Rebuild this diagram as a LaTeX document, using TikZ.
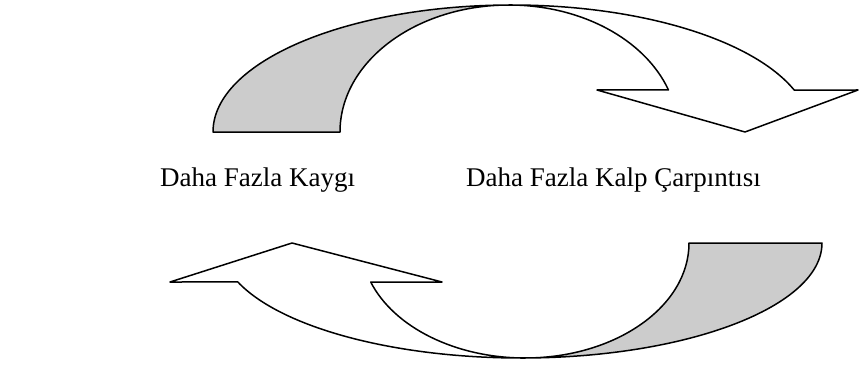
\documentclass[tikz,border=0pt]{standalone}
\usepackage{fontspec}
\setmainfont{Liberation Serif}
\begin{document}
\begin{tikzpicture}[x=1pt,y=1pt,
  band/.style={draw=black,line width=1.5pt,line join=round},
  back/.style={band,fill=black!20},
  front/.style={band,fill=white},
  lbl/.style={anchor=base west,inner sep=0pt,font=\fontsize{27}{30}\selectfont}]
\useasboundingbox (0,0) rectangle (860,365);
% top curved down arrow
\path[back] (213,233) arc[start angle=180,end angle=90,x radius=299,y radius=127]
  -- (509,360) arc[start angle=90,end angle=180,x radius=169,y radius=127] -- cycle;
\path[front] (512,360) arc[start angle=90,end angle=19.31,x radius=299,y radius=127]
  -- (858,275) -- (745,233) -- (597,275) -- (668.5,275)
  arc[start angle=19.31,end angle=90,x radius=169,y radius=127] -- cycle;
% bottom curved up arrow
\path[back] (822,122) arc[start angle=0,end angle=-90,x radius=301,y radius=115]
  -- (525,7) arc[start angle=-90,end angle=0,x radius=164,y radius=115] -- cycle;
\path[front] (521,7) arc[start angle=270,end angle=199.82,x radius=301,y radius=115]
  -- (170,83) -- (292,122) -- (442,83) -- (370.7,83)
  arc[start angle=199.82,end angle=270,x radius=164,y radius=115] -- cycle;
% labels
\node[lbl] (kaygi) at (160,179) {Daha Fazla Kaygı};
\node[lbl] (kalp) at (466,179) {Daha Fazla Kalp Çarpıntısı};
\end{tikzpicture}
\end{document}
